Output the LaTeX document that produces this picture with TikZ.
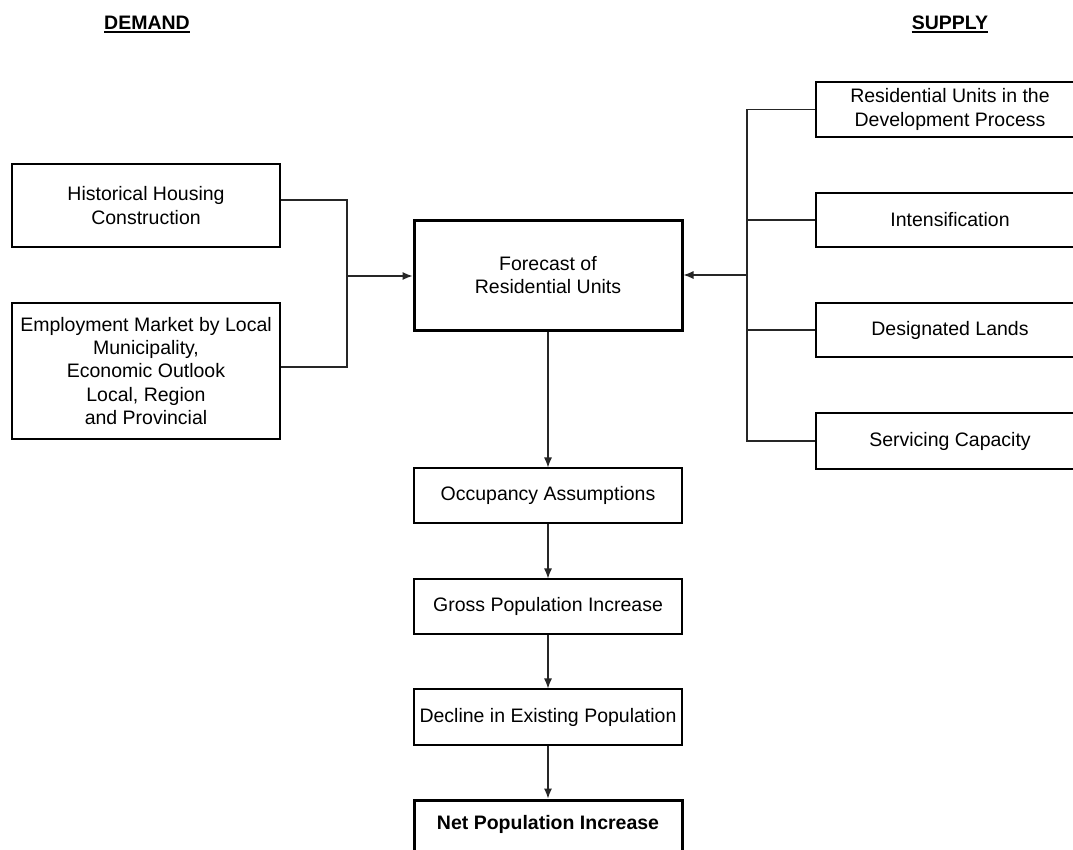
\documentclass[tikz,border=0pt]{standalone}
\usepackage{fontspec}
\setmainfont{Liberation Sans}
\usetikzlibrary{arrows.meta,calc}
\begin{document}
\begin{tikzpicture}[x=1pt,y=-1pt,
  every node/.style={font=\fontsize{19.5}{23.3}\selectfont},
  box/.style={draw=black,line width=1.1pt,rectangle,inner sep=0pt,align=center,minimum width=268pt},
  thickbox/.style={box,line width=3pt},
  conn/.style={draw=black!85,line width=1.1pt},
  arr/.style={conn,-{Latex[length=10pt,width=8pt]}},
  heading/.style={inner sep=0pt,font=\fontsize{19.5}{23.3}\selectfont\bfseries}
]
\useasboundingbox (0,0) rectangle (1073,849);
\clip (0,0) rectangle (1073,849);

% headings
\node[heading,anchor=base] (dem) at (147,29) {DEMAND};
\node[heading,anchor=base] (sup) at (950,29) {SUPPLY};
\draw[line width=1.8pt] ([yshift=-3pt]dem.base west) -- ([yshift=-3pt]dem.base east);
\draw[line width=1.8pt] ([yshift=-3pt]sup.base west) -- ([yshift=-3pt]sup.base east);

% demand boxes
\node[box,minimum height=83pt] (hist) at (146,205.5) {Historical Housing\\Construction};
\node[box,minimum height=136pt] (emp) at (146,371) {Employment Market by Local\\Municipality,\\Economic Outlook\\Local, Region\\and Provincial};

% forecast
\node[thickbox,minimum height=110pt] (fore) at (548,275) {Forecast of\\Residential Units};

% supply boxes
\node[box,minimum height=55pt] (res) at (950,109.5) {Residential Units in the\\Development Process};
\node[box,minimum height=54pt] (int) at (950,220) {Intensification};
\node[box,minimum height=54pt] (des) at (950,330) {Designated Lands};
\node[box,minimum height=56pt] (serv) at (950,441) {Servicing Capacity};

% chain
\node[box,minimum height=55pt] (occ) at (548,495.5) {Occupancy Assumptions};
\node[box,minimum height=55pt] (gross) at (548,606.5) {Gross Population Increase};
\node[box,minimum height=56pt] (decl) at (548,717) {Decline in Existing Population};
\node[thickbox,anchor=base,text height=29pt,text depth=30pt,inner ysep=0pt,
      font=\fontsize{19.5}{23.3}\selectfont\bfseries] (net) at (548,829) {Net Population Increase};

% left bus
\coordinate (lbus) at (347,276);
\draw[conn] ([yshift=5.5pt]hist.east) -| (lbus);
\draw[conn] ([yshift=4pt]emp.east) -| (lbus);
\draw[arr] (lbus) -- (lbus -| fore.west);

% right bus
\coordinate (rbus) at (747,275);
\draw[conn] (res.west) -| (rbus);
\draw[conn] (serv.west) -| (rbus);
\draw[conn] (int.west) -- (int.west -| rbus);
\draw[conn] (des.west) -- (des.west -| rbus);
\draw[arr] (rbus) -- (fore.east);

% vertical chain
\draw[arr] (fore.south) -- (occ.north);
\draw[arr] (occ.south) -- (gross.north);
\draw[arr] (gross.south) -- (decl.north);
\draw[arr] (decl.south) -- (net.north);
\end{tikzpicture}
\end{document}
